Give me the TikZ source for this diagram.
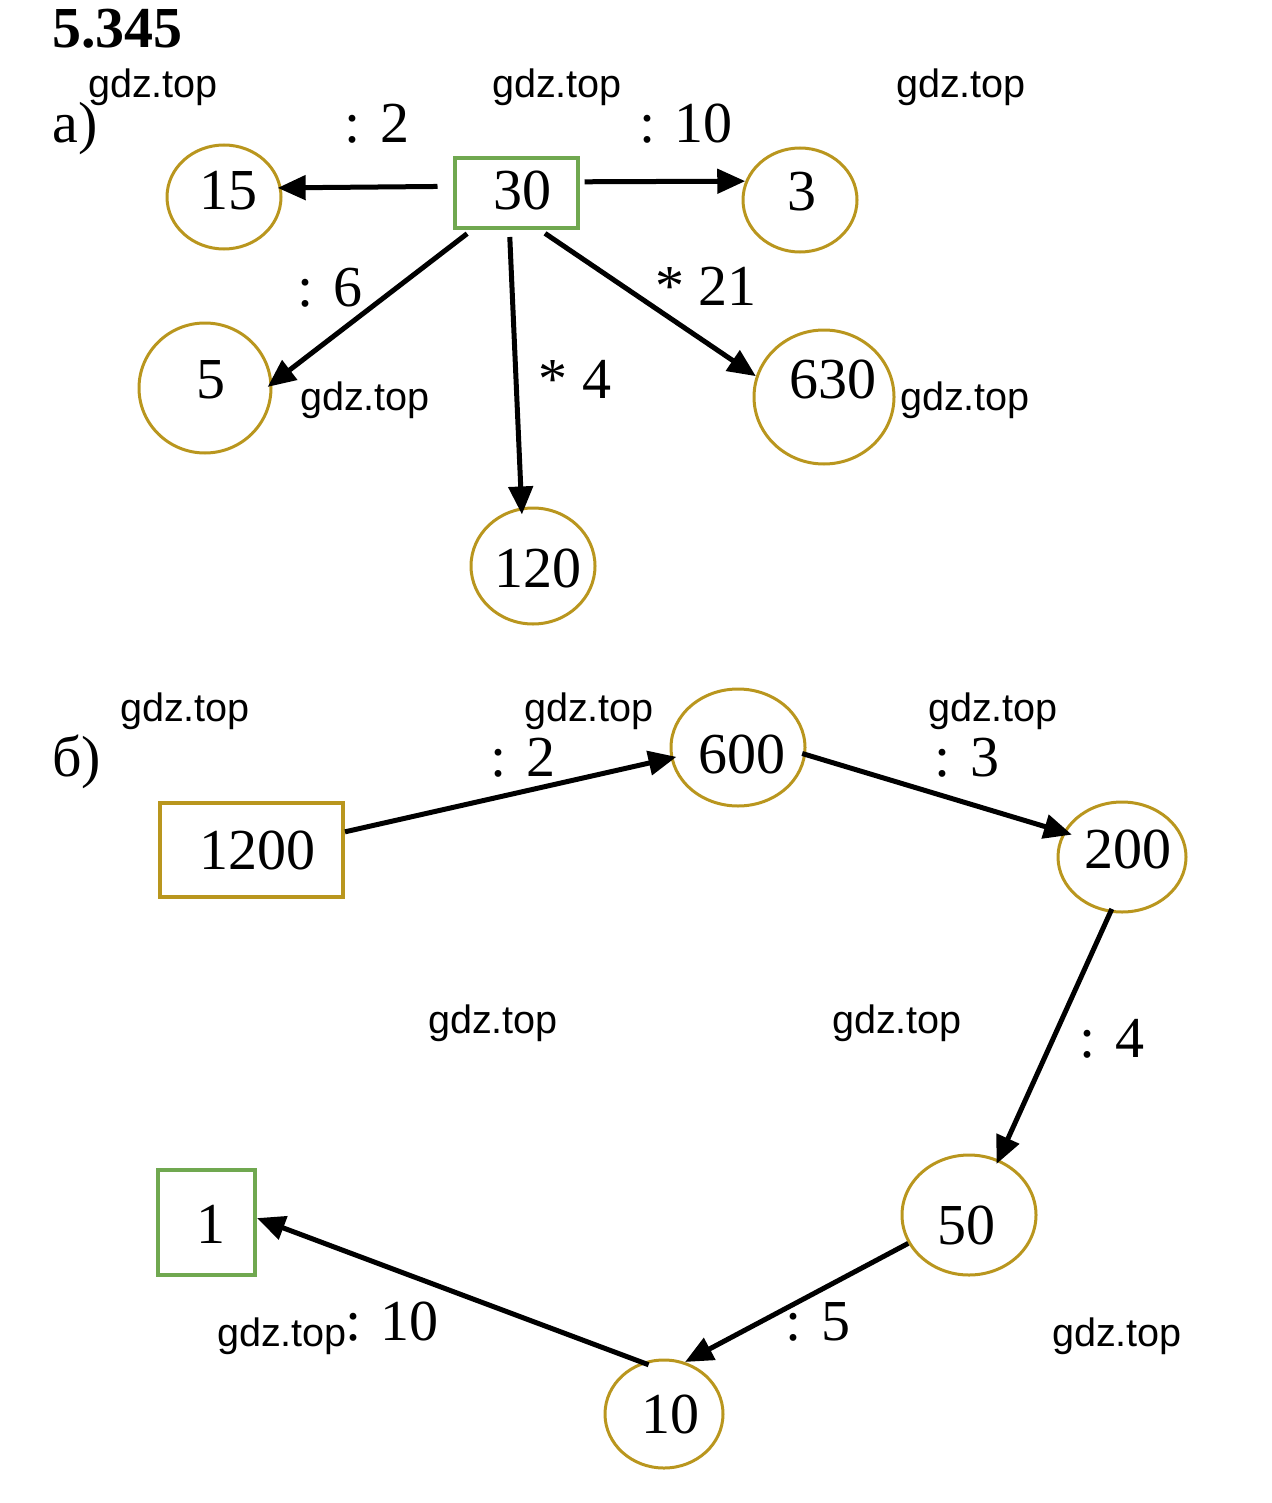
\documentclass[tikz,border=0pt]{standalone}
\usepackage{fontspec}
\setmainfont{Liberation Serif}
\newfontfamily\wmfont{Liberation Sans}
\usetikzlibrary{arrows.meta,shapes.geometric}
\definecolor{gold}{RGB}{185,150,30}
\definecolor{grn}{RGB}{112,168,80}
\newcommand\shiftt[3]{\hspace*{#1}\raisebox{#2}[\height][\depth]{#3}\hspace*{-#1}}
\begin{document}
\begin{tikzpicture}[x=0.5pt,y=-0.5pt,
  numtext/.style={font=\fontsize{29}{32}\selectfont},
  ell/.style={ellipse, draw=gold, line width=1.5pt, inner sep=0pt, numtext},
  gbox/.style={rectangle, draw=grn, line width=2pt, inner sep=0pt, numtext},
  ybox/.style={rectangle, draw=gold, line width=2pt, inner sep=0pt, numtext},
  arr/.style={line width=2.5pt, -{Triangle[length=14pt,width=12pt]}},
  lbl/.style={numtext, inner sep=0pt, anchor=base},
  wm/.style={font=\wmfont\fontsize{19.8}{22}\selectfont, inner sep=0pt, anchor=base}]
\useasboundingbox (0,0) rectangle (1271,1503);

% title and part labels
\node[inner sep=0pt, anchor=base west, font=\bfseries\fontsize{29}{32}\selectfont] (title) at (52,48) {5.345};
\node[lbl, anchor=base west] (pa) at (52,143) {a)};
\node[lbl, anchor=base west] (pb) at (52,776) {б)};

% watermarks
\foreach \x/\y [count=\i] in {153/98,557/98,961/98,365/410,965/410,185/721,589/721,993/721,493/1033,897/1033,282/1346,1117/1346}
  \node[wm] (wm\i) at (\x,\y) {gdz.top};

% part a
\node[gbox, minimum width=61.5pt, minimum height=35pt] (a30) at (516,193) {\shiftt{3pt}{1.5pt}{30}};
\node[ell, minimum width=57pt, minimum height=52pt] (a15) at (224,197) {\shiftt{2pt}{3pt}{15}};
\node[ell, minimum width=57pt, minimum height=52pt] (a3) at (800,200) {\shiftt{1pt}{4pt}{3}};
\node[ell, minimum width=66pt, minimum height=65pt] (a5) at (205,388) {\shiftt{3pt}{4pt}{5}};
\node[ell, minimum width=70pt, minimum height=67pt] (a630) at (824,397) {\shiftt{4.5pt}{9pt}{630}};
\node[ell, minimum width=62pt, minimum height=58pt] (a120) at (533,566) {\shiftt{2.5pt}{-1pt}{120}};

\draw[arr, shorten <=7.5pt, shorten >=-2pt] (a30.174.4) -- (a15.9.3);
\draw[arr, shorten <=2.5pt] (a30.10.95) -- (a3.161);
\draw[arr, shorten <=3pt, shorten >=-3pt] (a30.220.5) -- (a5.4.8);
\draw[arr, shorten <=3.5pt, shorten >=-3.5pt] (a30.260.3) -- (a120.101.5);
\draw[arr, shorten <=3pt] (a30.303.3) -- (a630.163.8);

\node[lbl] (la2) at (377,143) {: 2};
\node[lbl] (la10) at (686,143) {: 10};
\node[lbl] (la6) at (330,306) {: 6};
\node[lbl] (la4) at (575,398) {* 4};
\node[lbl] (la21) at (706,305) {* 21};

% part b
\node[ybox, minimum width=91.5pt, minimum height=47pt] (b1200) at (251.5,850) {\shiftt{2.75pt}{0pt}{1200}};
\node[ell, minimum width=67pt, minimum height=58.5pt] (b600) at (738,747.5) {\shiftt{2pt}{-3.5pt}{600}};
\node[ell, minimum width=64pt, minimum height=55pt] (b200) at (1122,857) {\shiftt{3pt}{4pt}{200}};
\node[ell, minimum width=67pt, minimum height=60pt] (b50) at (969,1215) {\shiftt{-1.5pt}{-5pt}{50}};
\node[ell, minimum width=59pt, minimum height=54pt] (b10) at (664,1414) {\shiftt{3pt}{0pt}{10}};
\node[gbox, minimum width=48.5pt, minimum height=52.5pt] (b1) at (206.5,1222.5) {\shiftt{2pt}{-1pt}{1}};

\draw[arr, shorten >=-3pt] (b1200.11.1) -- (b600.189);
\draw[arr, shorten <=-2pt, shorten >=-4.5pt] (b600.-6.9) -- (b200.157.8);
\draw[arr, shorten <=-2pt, shorten >=-2.5pt] (b200.258.3) -- (b50.62.5);
\draw[arr] (b50.205.3) -- (b10.68);
\draw[arr, shorten <=-3.5pt] (b10.113.4) -- (b1.5.3);

\node[lbl] (lb2) at (523,776) {: 2};
\node[lbl] (lb3) at (967,776) {: 3};
\node[lbl] (lb4) at (1112,1057) {: 4};
\node[lbl] (lb5) at (818,1340) {: 5};
\node[lbl] (lb10) at (392,1340) {: 10};
\end{tikzpicture}
\end{document}
